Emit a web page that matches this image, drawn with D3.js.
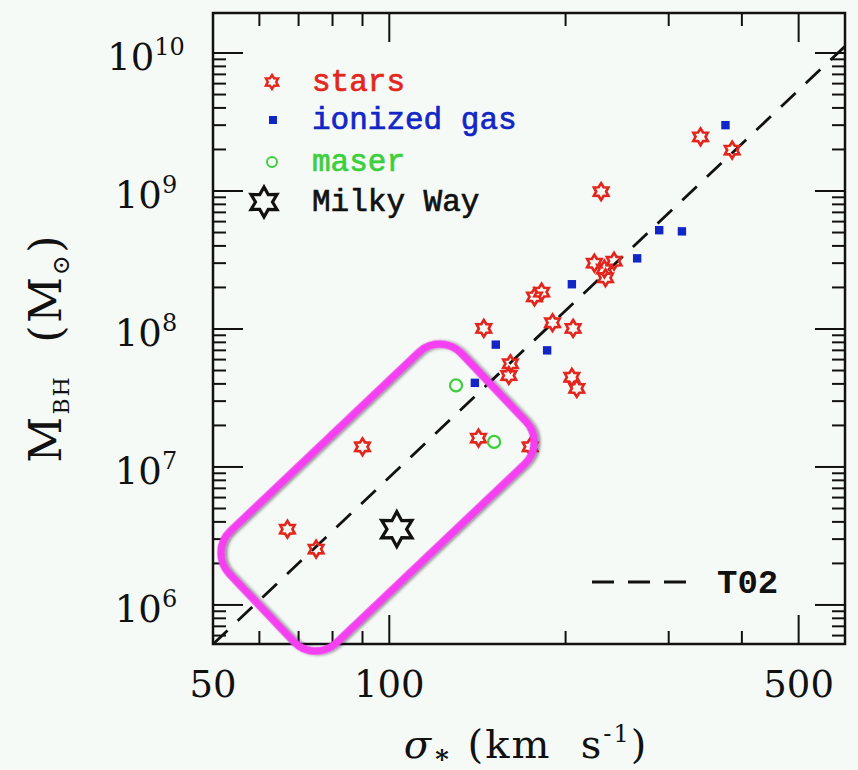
<!DOCTYPE html>
<html>
<head>
<meta charset="utf-8">
<script src="https://cdn.jsdelivr.net/npm/d3@7"></script>
<style>
  html, body { margin: 0; padding: 0; background: #f6faf7; }
  svg { display: block; }
</style>
</head>
<body>
<svg id="chart" width="858" height="770"></svg>
<script>
// ---- data: velocity dispersion sigma (km/s) and black-hole mass (solar masses)
const starsSigma = [340, 385, 230, 224, 242, 233, 234, 177, 182, 190, 206, 145, 161, 160, 205, 209, 142, 174, 90, 67, 75];
const starsMass  = [2.47e9, 1.98e9, 9.9e8, 3.0e8, 3.1e8, 2.72e8, 2.35e8, 1.71e8, 1.85e8, 1.11e8, 1.01e8, 1.01e8, 5.6e7, 4.6e7, 4.47e7, 3.71e7, 1.62e7, 1.40e7, 1.40e7, 3.54e6, 2.54e6];

const gasSigma = [375, 289, 316, 265, 205, 152, 186, 140];
const gasMass  = [3.0e9, 5.2e8, 5.1e8, 3.25e8, 2.11e8, 7.7e7, 7.0e7, 4.07e7];

const maserSigma = [130, 151];
const maserMass  = [3.9e7, 1.52e7];

const milkyWaySigma = [103];
const milkyWayMass  = [3.54e6];

// T02 relation, end points across the plotted sigma range
const t02Sigma = [50, 600];
const t02Mass  = [5.2e5, 1.12e10];

// axis ticks
const xMajorTicks = [50, 100, 500];
const xMinorTicks = [60, 70, 80, 90, 200, 300, 400, 600];
const yMajorExponents = [6, 7, 8, 9, 10];

// legend entries
const legendLabels = ["stars", "ionized gas", "maser", "Milky Way"];

(function () {
  // ---- layout
  const W = 858, H = 770;
  const pLeft = 213, pRight = 845, pTop = 13, pBottom = 644;
  const C = { red: "#e3261d", blue: "#1226c6", green: "#3ccf3c", black: "#111", magenta: "#f43ff0", bg: "#f6faf7" };

  const svg = d3.select("#chart");
  svg.append("rect").attr("width", W).attr("height", H).attr("fill", C.bg);

  const x = d3.scaleLog().domain([50, 600]).range([pLeft, pRight]);
  const y = d3.scaleLog().domain([Math.pow(10, 5.717), Math.pow(10, 10.29)]).range([pBottom, pTop]);

  // six-pointed outline star
  function hexagram(R, r) {
    const p = [];
    for (let i = 0; i < 12; i++) {
      const a = (-90 + i * 30) * Math.PI / 180;
      const rad = i % 2 === 0 ? R : r;
      p.push([rad * Math.cos(a), rad * Math.sin(a)]);
    }
    return "M" + p.map(q => q[0].toFixed(2) + "," + q[1].toFixed(2)).join("L") + "Z";
  }

  // ---- ticks (inward on all four sides)
  const g = svg.append("g");
  function tick(x1, y1, x2, y2) {
    g.append("line").attr("x1", x1).attr("y1", y1).attr("x2", x2).attr("y2", y2)
      .attr("stroke", "#111").attr("stroke-width", 2);
  }

  const xTicks = xMajorTicks.map(v => ({ v, len: 29 })).concat(xMinorTicks.map(v => ({ v, len: 13 })));
  xTicks.forEach(t => {
    tick(x(t.v), pBottom, x(t.v), pBottom - t.len);
    tick(x(t.v), pTop, x(t.v), pTop + t.len);
  });

  const yTicks = [];
  const yDomain = y.domain();
  for (let e = 5; e <= 10; e++) {
    for (let m = 1; m <= 9; m++) {
      const v = m * Math.pow(10, e);
      if (v < yDomain[0] || v > yDomain[1]) continue;
      yTicks.push({ v, len: m === 1 ? 30 : 13 });
    }
  }
  yTicks.forEach(t => {
    tick(pLeft, y(t.v), pLeft + t.len, y(t.v));
    tick(pRight, y(t.v), pRight - t.len, y(t.v));
  });

  // frame
  g.append("rect").attr("x", pLeft).attr("y", pTop).attr("width", pRight - pLeft).attr("height", pBottom - pTop)
    .attr("fill", "none").attr("stroke", "#111").attr("stroke-width", 2.5);

  // ---- tick labels
  const tickFont = "'DejaVu Serif', 'Liberation Serif', serif";
  g.selectAll(".xlab").data(xMajorTicks).enter().append("text")
    .attr("x", d => x(d)).attr("y", 697)
    .attr("text-anchor", "middle")
    .attr("font-family", tickFont).attr("font-size", 37).attr("fill", "#111")
    .text(d => d);

  yMajorExponents.forEach(e => {
    const t = g.append("text")
      .attr("x", 146).attr("y", y(Math.pow(10, e)) + 17)
      .attr("text-anchor", "middle")
      .attr("font-family", tickFont).attr("font-size", 37).attr("fill", "#111");
    t.append("tspan").text("10");
    t.append("tspan").attr("dy", -15).attr("font-size", 24).text(e);
  });

  // ---- axis titles
  const xt = g.append("text").attr("x", 526).attr("y", 758).attr("text-anchor", "middle")
    .attr("font-family", tickFont).attr("font-size", 40).attr("letter-spacing", 2).attr("fill", "#111");
  xt.append("tspan").attr("font-style", "italic").text("σ");
  xt.append("tspan").attr("dy", 5).attr("font-size", 26).attr("font-weight", "bold").text("∗");
  xt.append("tspan").attr("dy", -5).text("\u00a0(km\u00a0\u00a0s");
  xt.append("tspan").attr("dy", -16).attr("font-size", 24).text("-1");
  xt.append("tspan").attr("dy", 16).text(")");

  const yt = g.append("text").attr("transform", "translate(61,348) rotate(-90)").attr("text-anchor", "middle")
    .attr("font-family", tickFont).attr("font-size", 45).attr("letter-spacing", 2).attr("fill", "#111");
  yt.append("tspan").text("M");
  yt.append("tspan").attr("dy", 8).attr("font-size", 22).text("BH");
  yt.append("tspan").attr("dy", -8).text("\u00a0\u00a0(M");
  yt.append("tspan").attr("dy", 8).attr("font-size", 24).text("⊙");
  yt.append("tspan").attr("dy", -8).text(")");

  // ---- T02 relation
  const line = d3.line().x(d => x(d[0])).y(d => y(d[1]));
  svg.append("clipPath").attr("id", "plotclip").append("rect")
    .attr("x", pLeft).attr("y", pTop).attr("width", pRight - pLeft).attr("height", pBottom - pTop);
  g.append("path").datum(t02Sigma.map((s, i) => [s, t02Mass[i]]))
    .attr("d", line).attr("clip-path", "url(#plotclip)")
    .attr("fill", "none").attr("stroke", "#111").attr("stroke-width", 2.8).attr("stroke-dasharray", "20,14");

  // ---- data points
  const pts = g.append("g");
  pts.selectAll(".star").data(starsSigma.map((s, i) => [s, starsMass[i]])).enter().append("path")
    .attr("transform", d => `translate(${x(d[0])},${y(d[1])})`)
    .attr("d", hexagram(8.3, 5)).attr("fill", "none").attr("stroke", C.red).attr("stroke-width", 2.7);

  pts.selectAll(".gas").data(gasSigma.map((s, i) => [s, gasMass[i]])).enter().append("rect")
    .attr("x", d => x(d[0]) - 4.2).attr("y", d => y(d[1]) - 4.2)
    .attr("width", 8.4).attr("height", 8.4).attr("fill", C.blue);

  pts.selectAll(".maser").data(maserSigma.map((s, i) => [s, maserMass[i]])).enter().append("circle")
    .attr("cx", d => x(d[0])).attr("cy", d => y(d[1])).attr("r", 6)
    .attr("fill", "none").attr("stroke", C.green).attr("stroke-width", 2.2);

  pts.selectAll(".mw").data(milkyWaySigma.map((s, i) => [s, milkyWayMass[i]])).enter().append("path")
    .attr("transform", d => `translate(${x(d[0])},${y(d[1])})`)
    .attr("d", hexagram(17.5, 9.8)).attr("fill", "none").attr("stroke", C.black).attr("stroke-width", 3.2);

  // ---- legend
  const legFont = "'Liberation Mono', 'DejaVu Sans Mono', monospace";
  const legRows = [82, 120, 162, 202];
  const legColors = [C.red, C.blue, C.green, C.black];
  const leg = g.append("g");
  leg.append("path").attr("transform", `translate(272,${legRows[0]})`).attr("d", hexagram(7, 4.2))
    .attr("fill", "none").attr("stroke", C.red).attr("stroke-width", 2.5);
  leg.append("rect").attr("x", 269).attr("y", legRows[1] - 4).attr("width", 8).attr("height", 8).attr("fill", C.blue);
  leg.append("circle").attr("cx", 272).attr("cy", legRows[2]).attr("r", 5).attr("fill", "none")
    .attr("stroke", C.green).attr("stroke-width", 2);
  leg.append("path").attr("transform", `translate(264,${legRows[3]})`).attr("d", hexagram(15, 8.5))
    .attr("fill", "none").attr("stroke", C.black).attr("stroke-width", 3.2);
  legendLabels.forEach((lab, i) => {
    leg.append("text").attr("x", 312).attr("y", legRows[i] + 9)
      .attr("font-family", legFont).attr("font-size", 31)
      .attr("fill", legColors[i]).attr("stroke", legColors[i]).attr("stroke-width", 0.7)
      .text(lab);
  });

  // T02 key
  leg.append("line").attr("x1", 592).attr("x2", 690).attr("y1", 582).attr("y2", 582)
    .attr("stroke", "#111").attr("stroke-width", 2.8).attr("stroke-dasharray", "22,14");
  leg.append("text").attr("x", 717).attr("y", 593).attr("font-family", legFont)
    .attr("font-weight", "bold").attr("font-size", 34).attr("fill", "#111").text("T02");

  // ---- highlighted low-mass region
  const defs = svg.append("defs");
  const f = defs.append("filter").attr("id", "shadow").attr("x", "-20%").attr("y", "-20%").attr("width", "140%").attr("height", "140%");
  f.append("feDropShadow").attr("dx", 1.5).attr("dy", 2).attr("stdDeviation", 1.6)
    .attr("flood-color", "#000").attr("flood-opacity", 0.45);
  const hlCenter = [x(95.5), y(6.0e6)];
  svg.append("rect")
    .attr("transform", `translate(${hlCenter[0]},${hlCenter[1]}) rotate(-43.5)`)
    .attr("x", -160).attr("y", -77).attr("width", 320).attr("height", 154)
    .attr("rx", 30).attr("ry", 30)
    .attr("fill", "none").attr("stroke", C.magenta).attr("stroke-width", 7.5)
    .attr("filter", "url(#shadow)");
})();
</script>
</body>
</html>
